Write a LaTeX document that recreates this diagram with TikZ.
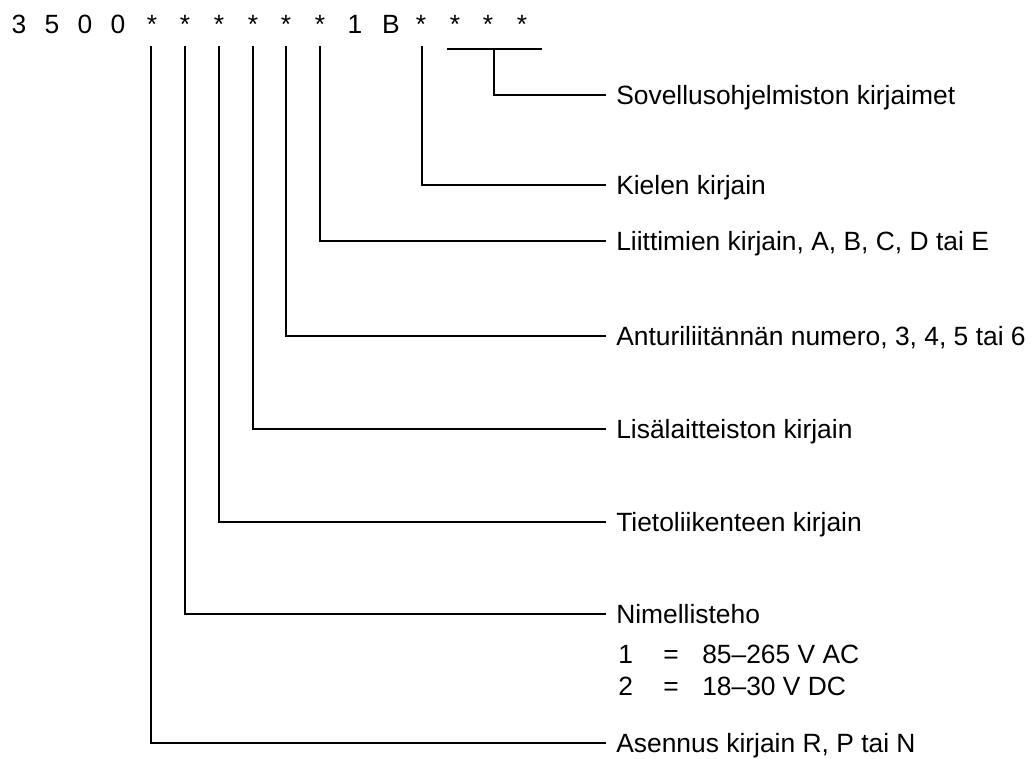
\documentclass[tikz,border=0pt]{standalone}
\usepackage{fontspec}
\setmainfont{Liberation Sans}
\begin{document}
\begin{tikzpicture}[x=0.75pt,y=-0.75pt,
  lead/.style={line width=1.6pt},
  code/.style={anchor=base,inner sep=0pt,font=\fontsize{19.8}{24}\selectfont},
  lbl/.style={anchor=west,inner xsep=7.5pt,inner ysep=0pt,text height=14.2pt,text depth=0pt,
    font=\fontsize{19.8}{24}\selectfont},
  val/.style={anchor=base west,inner sep=0pt,font=\fontsize{19.8}{24}\selectfont}]
\useasboundingbox (0,0) rectangle (1034,758);

% type code characters
\node[code] (c1)  at (19,33)  {3};
\node[code] (c2)  at (52,33)  {5};
\node[code] (c3)  at (85,33)  {0};
\node[code] (c4)  at (118,33) {0};
\node[code] (c5)  at (152,33) {*};
\node[code] (c6)  at (185,33) {*};
\node[code] (c7)  at (219,33) {*};
\node[code] (c8)  at (253,33) {*};
\node[code] (c9)  at (286,33) {*};
\node[code] (c10) at (320,33) {*};
\node[code] (c11) at (355,33) {1};
\node[code] (c12) at (391,33) {B};
\node[code] (c13) at (421,33) {*};
\node[code] (c14) at (455,33) {*};
\node[code] (c15) at (488,33) {*};
\node[code] (c16) at (522,33) {*};

% explanations
\node[lbl] (l1) at (606,95)  {Sovellusohjelmiston kirjaimet};
\node[lbl] (l2) at (606,185) {Kielen kirjain};
\node[lbl] (l3) at (606,241) {Liittimien kirjain, A, B, C, D tai E};
\node[lbl] (l4) at (606,336) {Anturiliitännän numero, 3, 4, 5 tai 6};
\node[lbl] (l5) at (606,429) {Lisälaitteiston kirjain};
\node[lbl] (l6) at (606,522) {Tietoliikenteen kirjain};
\node[lbl] (l7) at (606,614) {Nimellisteho};
\node[lbl] (l8) at (606,743) {Asennus kirjain R, P tai N};

% supply voltage options
\node[val] (o1)  at (618,663) {1};
\node[val] (e1)  at (663,663) {=};
\node[val] (t1)  at (702,663) {85–265 V AC};
\node[val] (o2)  at (618,695) {2};
\node[val] (e2)  at (663,695) {=};
\node[val] (t2)  at (702,695) {18–30 V DC};

% leader start points below the characters
\coordinate (p5)  at (151,46);
\coordinate (p6)  at (185,46);
\coordinate (p7)  at (219,46);
\coordinate (p8)  at (253,46);
\coordinate (p9)  at (286,46);
\coordinate (p10) at (320,46);
\coordinate (p13) at (422,46);
\coordinate (ga)  at (447,49);
\coordinate (gb)  at (542,49);
\coordinate (gm)  at (494,49);

\draw[lead] (p5)  |- (l8.west);
\draw[lead] (p6)  |- (l7.west);
\draw[lead] (p7)  |- (l6.west);
\draw[lead] (p8)  |- (l5.west);
\draw[lead] (p9)  |- (l4.west);
\draw[lead] (p10) |- (l3.west);
\draw[lead] (p13) |- (l2.west);
\draw[lead] (ga) -- (gb);
\draw[lead] (gm) |- (l1.west);
\end{tikzpicture}
\end{document}
